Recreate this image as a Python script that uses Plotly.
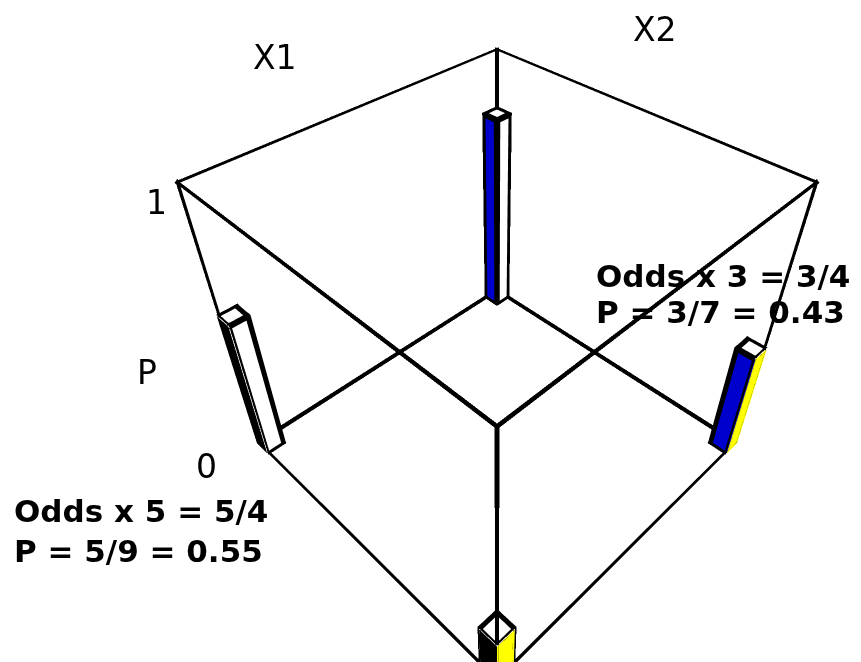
import itertools
import numpy as np
import plotly.graph_objects as go

# Corner cells of the 2x2 design and the fitted probability in each
x1_level = [0, 1, 0, 1]
x2_level = [0, 0, 1, 1]
prob = [1 / 5, 3 / 7, 5 / 9, 15 / 19]

# Face colours: the left-facing side shows the X1 level, the right-facing side the X2 level
x1_colors = ["#000000", "#0000cd"]
x2_colors = ["#ffff00", "#ffffff"]
top_color = "#ffffff"

bar_width = 0.055
axis_range = [0.0, 1.0]
p_tick_labels = ["0", "1"]
axis_titles = ["X1", "X2", "P"]

note_x2 = ["Odds x 5 = 5/4", "P = 5/9 = 0.55"]
note_x1 = ["Odds x 3 = 3/4", "P = 3/7 = 0.43"]

W, H = 861, 662
ASPECT = (1.117, 1.117, 1.0)
STROKE_PX = 6.0                        # on-screen width of the drawn edges
FOCAL_PX = (H / 2) / np.tan(np.pi / 8)  # perspective scale of the 3D view

# Camera looking down the X1=X2 diagonal from the (0, 0) corner
elev = np.radians(42.5)
dist = 2.29
eye_pos = np.array([-dist * np.cos(elev) / np.sqrt(2),
                    -dist * np.cos(elev) / np.sqrt(2),
                    dist * np.sin(elev)])

fig = go.Figure()


def cuboid(x0, x1, y0, y1, z0, z1):
    xs = [x0, x1, x1, x0, x0, x1, x1, x0]
    ys = [y0, y0, y1, y1, y0, y0, y1, y1]
    zs = [z0, z0, z0, z0, z1, z1, z1, z1]
    return xs, ys, zs


# triangles of a cuboid: bottom, top, -y, +y, -x, +x
tri_i = [0, 0, 4, 4, 0, 0, 3, 3, 0, 0, 1, 1]
tri_j = [1, 2, 5, 6, 1, 5, 2, 6, 3, 7, 2, 6]
tri_k = [2, 3, 6, 7, 5, 4, 6, 7, 7, 4, 6, 5]
edge_pairs = [(0, 1), (1, 2), (2, 3), (3, 0), (4, 5), (5, 6), (6, 7), (7, 4),
              (0, 4), (1, 5), (2, 6), (3, 7)]

# Edges are drawn as thin square rods so they keep a visible stroke width;
# each rod is thickened with its distance from the camera.
rod_x, rod_y, rod_z, rod_i, rod_j, rod_k = [], [], [], [], [], []
rod_faces = [(0, 1, 2), (0, 2, 3), (4, 5, 6), (4, 6, 7),
             (0, 1, 5), (0, 5, 4), (1, 2, 6), (1, 6, 5),
             (2, 3, 7), (2, 7, 6), (3, 0, 4), (3, 4, 7)]


def to_scene(pt):
    span = axis_range[1] - axis_range[0]
    return np.array([((v - axis_range[0]) / span - 0.5) * a
                     for v, a in zip(pt, ASPECT)])


def add_rod(p, q, stroke):
    mid = (to_scene(p) + to_scene(q)) / 2
    depth = np.linalg.norm(mid - eye_pos)
    half_scene = 0.5 * stroke * depth / FOCAL_PX / np.sqrt(1.2)
    half = [half_scene / a for a in ASPECT]
    axis = [d for d in range(3) if p[d] != q[d]][0]
    others = [d for d in range(3) if d != axis]
    lo_v, hi_v = sorted((p[axis], q[axis]))
    lo_v -= half[axis]
    hi_v += half[axis]
    base = len(rod_x)
    for end in (lo_v, hi_v):
        for sa, sb in [(-1, -1), (1, -1), (1, 1), (-1, 1)]:
            v = list(p)
            v[axis] = end
            v[others[0]] = p[others[0]] + sa * half[others[0]]
            v[others[1]] = p[others[1]] + sb * half[others[1]]
            rod_x.append(v[0]); rod_y.append(v[1]); rod_z.append(v[2])
    for a, b, c in rod_faces:
        rod_i.append(base + a); rod_j.append(base + b); rod_k.append(base + c)


flat = dict(ambient=1.0, diffuse=0.0, specular=0.0, roughness=1.0, fresnel=0.0)

lo, hi = axis_range
for a, b, p in zip(x1_level, x2_level, prob):
    bx = (lo, lo + bar_width) if a == 0 else (hi - bar_width, hi)
    by = (lo, lo + bar_width) if b == 0 else (hi - bar_width, hi)
    xs, ys, zs = cuboid(bx[0], bx[1], by[0], by[1], 0.0, p)
    fc = [top_color, top_color, top_color, top_color,
          x2_colors[b], x2_colors[b], "#ffffff", "#ffffff",
          x1_colors[a], x1_colors[a], "#ffffff", "#ffffff"]
    fig.add_trace(go.Mesh3d(
        x=xs, y=ys, z=zs, i=tri_i, j=tri_j, k=tri_k,
        facecolor=fc, flatshading=True, lighting=flat,
        hoverinfo="skip", showscale=False))
    for u, v in edge_pairs:
        add_rod((xs[u], ys[u], zs[u]), (xs[v], ys[v], zs[v]), STROKE_PX * 0.75)

# Bounding box of the unit cube
corners = list(itertools.product(axis_range, axis_range, axis_range))
for c1, c2 in itertools.combinations(corners, 2):
    if sum(u != v for u, v in zip(c1, c2)) == 1:
        add_rod(c1, c2, STROKE_PX)

fig.add_trace(go.Mesh3d(x=rod_x, y=rod_y, z=rod_z, i=rod_i, j=rod_j, k=rod_k,
                        color="black", flatshading=True, lighting=flat,
                        hoverinfo="skip", showscale=False))

hidden = dict(visible=False, range=axis_range)
fig.update_layout(
    width=W, height=H,
    margin=dict(l=0, r=0, t=0, b=0),
    paper_bgcolor="white",
    showlegend=False,
    scene=dict(
        domain=dict(x=[133 / W, 1.0], y=[0.0, 1.0]),
        xaxis=hidden, yaxis=hidden, zaxis=hidden,
        aspectmode="manual",
        aspectratio=dict(x=ASPECT[0], y=ASPECT[1], z=ASPECT[2]),
        camera=dict(eye=dict(x=eye_pos[0], y=eye_pos[1], z=eye_pos[2]),
                    center=dict(x=0, y=0, z=0),
                    up=dict(x=0, y=0, z=1),
                    projection=dict(type="perspective")),
        bgcolor="white",
    ),
)


def label(text, px, py, size, bold=False, xanchor="center"):
    fig.add_annotation(
        x=px / W, y=1 - py / H, xref="paper", yref="paper",
        text=text, showarrow=False, xanchor=xanchor, yanchor="middle",
        font=dict(family="DejaVu Sans", size=size, color="black",
                  weight="bold" if bold else "normal"))


label(axis_titles[0], 275, 57, 33)
label(axis_titles[1], 655, 30, 33)
label(axis_titles[2], 147, 372, 33)
label(p_tick_labels[1], 156, 202, 33)
label(p_tick_labels[0], 206, 466, 33)

label(note_x2[0], 12, 511, 31, bold=True, xanchor="left")
label(note_x2[1], 12, 551, 31, bold=True, xanchor="left")
label(note_x1[0], 594, 276, 31, bold=True, xanchor="left")
label(note_x1[1], 594, 312, 31, bold=True, xanchor="left")

fig.write_html("out.html", config={"displayModeBar": False})
